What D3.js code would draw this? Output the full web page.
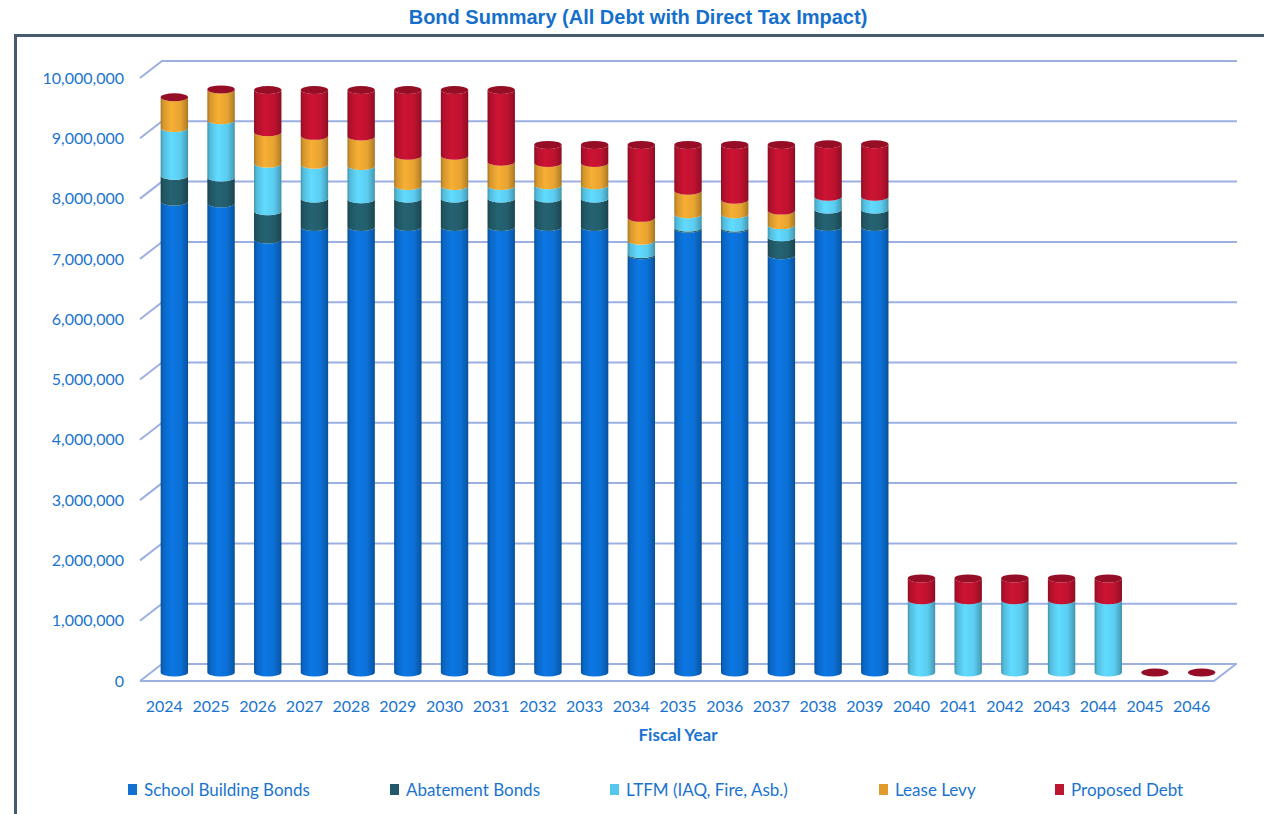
<!DOCTYPE html>
<html>
<head>
<meta charset="utf-8">
<script src="https://cdn.jsdelivr.net/npm/d3@7"></script>
<style>
  html, body { margin: 0; padding: 0; background: #ffffff; }
  svg { display: block; }
</style>
</head>
<body>
<svg id="chart" width="1264" height="814"></svg>
<script>
// Fiscal years on the category axis
const years = ["2024","2025","2026","2027","2028","2029","2030","2031","2032","2033","2034","2035",
               "2036","2037","2038","2039","2040","2041","2042","2043","2044","2045","2046"];

// Annual debt service by source (dollars)
const schoolBuildingBonds = [7810000,7780000,7180000,7390000,7390000,7390000,7390000,7390000,7390000,7390000,6920000,7360000,
                             7360000,6920000,7390000,7390000,0,0,0,0,0,0,0];
const abatementBonds      = [430000,430000,470000,470000,460000,470000,470000,470000,470000,470000,20000,20000,
                             20000,300000,290000,290000,0,0,0,0,0,0,0];
const ltfm                = [790000,950000,790000,560000,550000,210000,210000,210000,220000,220000,220000,220000,
                             220000,200000,210000,210000,1200000,1200000,1200000,1200000,1200000,0,0];
const leaseLevy           = [510000,510000,520000,480000,490000,500000,500000,400000,370000,370000,380000,390000,
                             240000,240000,0,0,0,0,0,0,0,0,0];
const proposedDebt        = [0,0,700000,760000,770000,1090000,1090000,1190000,300000,300000,1210000,760000,
                             910000,1090000,870000,870000,360000,360000,360000,360000,360000,0,0];

const seriesNames = ["School Building Bonds","Abatement Bonds","LTFM (IAQ, Fire, Asb.)","Lease Levy","Proposed Debt"];
const seriesValues = [schoolBuildingBonds, abatementBonds, ltfm, leaseLevy, proposedDebt];
const seriesColors = ["#0b70d6","#235d6b","#5bcdf0","#e8a431","#c01230"];
const legendColors = ["#1170d2","#215968","#55c6ec","#e09b2c","#be1631"];

const yTicks = [0,1000000,2000000,3000000,4000000,5000000,6000000,7000000,8000000,9000000,10000000];

const titleText = "Bond Summary (All Debt with Direct Tax Impact)";
const xTitle = "Fiscal Year";

const svg = d3.select("#chart");
const defs = svg.append("defs");

const textBlue = "#1a74cf";
const gridColor = "#9cb0e2";
const fontMain = "Lato, 'Open Sans', sans-serif";

// front plane of the 3-D plot box, plus the depth offset to the back wall
const frontLeft = 140, frontRight = 1214;
const depthX = 22, depthY = -17;

const x = d3.scaleBand().domain(years).range([frontLeft, frontRight]).padding(0);
const y = d3.scaleLinear().domain([0, 10000000]).range([681, 78]);

// outer frame
svg.append("path")
  .attr("d", "M15.5,814 L15.5,35.5 L1264,35.5")
  .attr("fill", "none").attr("stroke", "#485a6e").attr("stroke-width", 3);

// title
svg.append("text")
  .attr("x", 638).attr("y", 24)
  .attr("text-anchor", "middle")
  .attr("font-family", "'Liberation Sans', Arial, sans-serif")
  .attr("font-weight", "bold").attr("font-size", 20)
  .attr("fill", "#1570cc")
  .text(titleText);

// gridlines: a short diagonal on the side wall and a line along the back wall
const grid = svg.append("g");
yTicks.forEach(t => {
  const yf = y(t);
  grid.append("path")
    .attr("d", `M${frontLeft},${yf} L${frontLeft + depthX},${yf + depthY} L${frontRight + depthX + 1},${yf + depthY}`)
    .attr("fill", "none").attr("stroke", gridColor).attr("stroke-width", 2);
});
// floor outline
grid.append("path")
  .attr("d", `M${frontLeft},${y(0)} L${frontRight},${y(0)} L${frontRight + depthX},${y(0) + depthY}`)
  .attr("fill", "none").attr("stroke", gridColor).attr("stroke-width", 2);

// y tick labels
svg.append("g").selectAll("text").data(yTicks).join("text")
  .attr("x", 124).attr("y", d => y(d))
  .attr("dy", "0.35em")
  .attr("text-anchor", "end")
  .attr("font-family", fontMain).attr("font-size", 16)
  .attr("fill", textBlue)
  .text(d => d3.format(",")(d));

// x tick labels
svg.append("g").selectAll("text").data(years).join("text")
  .attr("x", d => x(d) + x.bandwidth() / 2 + 1)
  .attr("y", 706).attr("dy", "0.35em")
  .attr("text-anchor", "middle")
  .attr("font-family", fontMain).attr("font-size", 16)
  .attr("fill", textBlue)
  .text(d => d);

// x axis title
svg.append("text")
  .attr("x", 678).attr("y", 735).attr("dy", "0.35em")
  .attr("text-anchor", "middle")
  .attr("font-family", fontMain).attr("font-weight", "bold").attr("font-size", 17)
  .attr("fill", textBlue)
  .text(xTitle);

// cylinder shading gradients
seriesColors.forEach((c, i) => {
  const base = d3.color(c);
  const g = defs.append("linearGradient").attr("id", "cyl" + i)
    .attr("x1", "0%").attr("x2", "100%").attr("y1", "0%").attr("y2", "0%");
  [[0, base.darker(0.9)], [0.1, base.darker(0.25)], [0.38, base.brighter(0.18)],
   [0.72, base], [0.92, base.darker(0.55)], [1, base.darker(1.0)]]
    .forEach(([o, col]) => g.append("stop").attr("offset", o).attr("stop-color", col.formatHex()));
});
const capColor = d3.color(seriesColors[seriesColors.length - 1]).darker(0.7).formatHex();

// stacked cylinders, placed mid-depth
const rx = 13.7, ry = 4;
const stackData = years.map((yr, i) => {
  const row = { year: yr };
  seriesValues.forEach((vals, s) => row["s" + s] = vals[i]);
  return row;
});
const stack = d3.stack().keys(seriesValues.map((_, s) => "s" + s));
const layers = stack(stackData);

const bars = svg.append("g");
layers.forEach((layer, s) => {
  layer.forEach((d, i) => {
    if (d[1] - d[0] <= 0) return;
    const cx = x(years[i]) + x.bandwidth() / 2 + depthX / 2;
    const yb = y(d[0]) + depthY / 2, yt = y(d[1]) + depthY / 2;
    bars.append("path")
      .attr("d", `M${cx - rx},${yt} L${cx - rx},${yb} A${rx},${ry} 0 0 0 ${cx + rx},${yb} L${cx + rx},${yt} A${rx},${ry} 0 0 1 ${cx - rx},${yt} Z`)
      .attr("fill", `url(#cyl${s})`);
  });
});
// top caps of each stack
const topLayer = layers[layers.length - 1];
bars.selectAll("ellipse.cap").data(topLayer).join("ellipse")
  .attr("class", "cap")
  .attr("cx", (d, i) => x(years[i]) + x.bandwidth() / 2 + depthX / 2)
  .attr("cy", d => y(d[1]) + depthY / 2)
  .attr("rx", rx).attr("ry", ry)
  .attr("fill", capColor);

// legend
const legendX = [128, 390, 610, 879, 1055];
const legend = svg.append("g");
seriesNames.forEach((name, i) => {
  legend.append("rect")
    .attr("x", legendX[i]).attr("y", 784).attr("width", 9).attr("height", 11)
    .attr("fill", legendColors[i]);
  legend.append("text")
    .attr("x", legendX[i] + 16).attr("y", 790).attr("dy", "0.35em")
    .attr("font-family", fontMain).attr("font-size", 17)
    .attr("fill", textBlue)
    .text(name);
});
</script>
</body>
</html>
